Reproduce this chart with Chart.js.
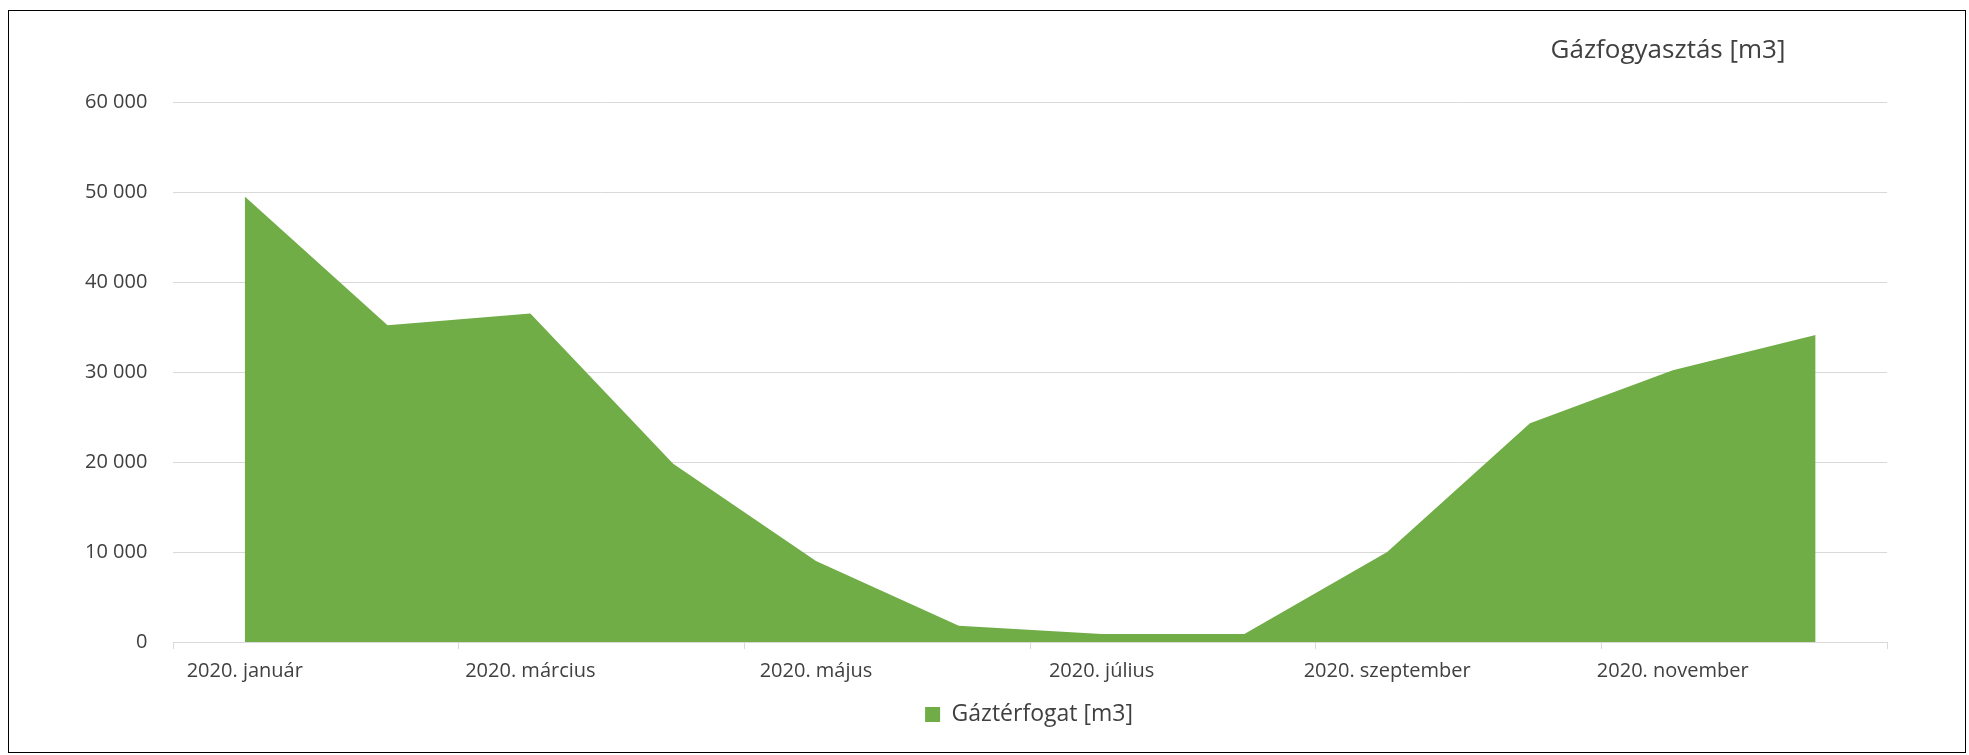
<!DOCTYPE html>
<html>
<head>
<meta charset="utf-8">
<script src="https://cdn.jsdelivr.net/npm/chart.js@4.4.1/dist/chart.umd.min.js"></script>
<style>
  html, body { margin: 0; padding: 0; background: #fff; }
  .frame {
    position: absolute;
    left: 8px;
    top: 10px;
    width: 1958px;
    height: 743px;
    border: 1px solid #000;
    box-sizing: border-box;
  }
</style>
</head>
<body>
<div class="frame"><canvas id="chart"></canvas></div>
<script>
const months = [
  '2020. január', '2020. február', '2020. március', '2020. április',
  '2020. május', '2020. június', '2020. július', '2020. augusztus',
  '2020. szeptember', '2020. október', '2020. november', '2020. december',
];
const gasVolume = [49500, 35200, 36500, 19800, 9000, 1800, 900, 900, 10000, 24300, 30200, 34100];
const seriesLabel = 'Gáztérfogat [m3]';
const chartTitle = 'Gázfogyasztás [m3]';

const TEXT = '#404040';
const GRID = '#d9d9d9';
const GREEN = '#70ad47';

Chart.defaults.font.family = '"Open Sans", sans-serif';
Chart.defaults.color = TEXT;

const formatThousands = v => String(v).replace(/\B(?=(\d{3})+(?!\d))/g, ' ');

// title sits off to the right and legend a bit right of centre, like the original
const placementPlugin = {
  id: 'placement',
  afterLayout(chart) {
    chart.legend.left += 56;
    chart.legend.right += 56;
  },
  afterDraw(chart) {
    const { ctx, chartArea } = chart;
    ctx.save();
    ctx.font = '26px "Open Sans", sans-serif';
    ctx.fillStyle = TEXT;
    ctx.textAlign = 'center';
    ctx.textBaseline = 'middle';
    ctx.fillText(chartTitle, chartArea.right - 219, chartArea.top - 51);
    ctx.restore();
  },
};

new Chart(document.getElementById('chart'), {
  type: 'line',
  data: {
    labels: months,
    datasets: [
      {
        label: seriesLabel,
        data: gasVolume,
        fill: 'origin',
        backgroundColor: GREEN,
        borderColor: GREEN,
        borderWidth: 0,
        pointRadius: 0,
        tension: 0,
      },
    ],
  },
  options: {
    responsive: true,
    maintainAspectRatio: false,
    animation: false,
    layout: {
      padding: { left: 50, right: 78, top: 91, bottom: 16 },
    },
    plugins: {
      legend: {
        position: 'bottom',
        labels: {
          boxWidth: 15,
          boxHeight: 15,
          color: TEXT,
          font: { size: 23 },
          padding: 10,
        },
      },
      tooltip: { enabled: false },
      title: { display: false },
    },
    scales: {
      x: {
        type: 'category',
        offset: true,
        grid: {
          offset: true,
          drawOnChartArea: false,
          drawTicks: true,
          tickLength: 7,
          color: ctx => (ctx.index === undefined || ctx.index % 2 === 0 ? GRID : 'rgba(0,0,0,0)'),
        },
        border: { color: GRID },
        ticks: {
          autoSkip: false,
          maxRotation: 0,
          padding: 10,
          color: TEXT,
          font: { size: 20 },
          callback: (value, index) => (index % 2 === 0 ? months[index] : ''),
        },
      },
      y: {
        min: 0,
        max: 60000,
        grid: { color: GRID, drawTicks: false },
        border: { display: false },
        ticks: {
          stepSize: 10000,
          padding: 26,
          color: TEXT,
          font: { size: 20 },
          callback: formatThousands,
        },
      },
    },
  },
  plugins: [placementPlugin],
});
</script>
</body>
</html>
